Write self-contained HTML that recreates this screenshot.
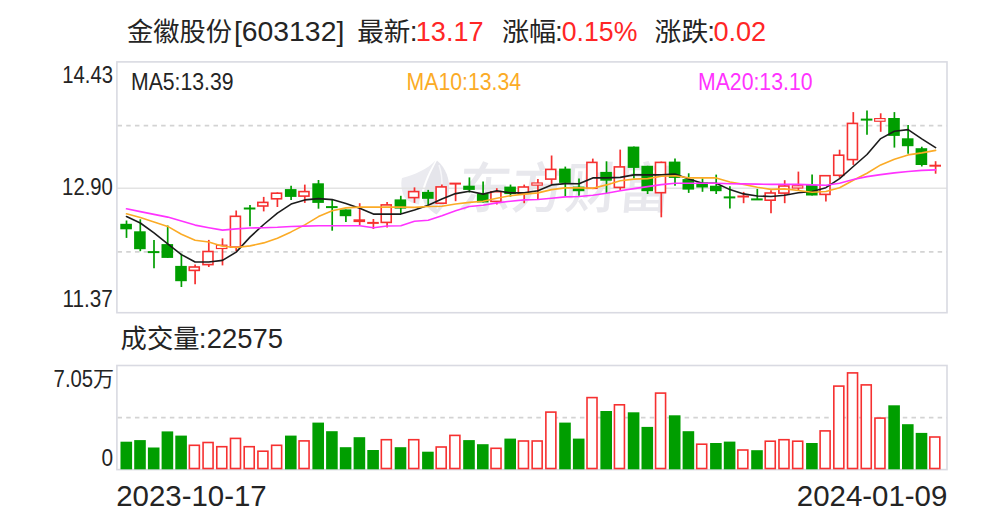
<!DOCTYPE html>
<html lang="zh-CN"><head><meta charset="utf-8"><title>金徽股份[603132] K线</title>
<style>html,body{margin:0;padding:0;background:#fff}svg{display:block}text{font-family:"Liberation Sans","Noto Sans CJK SC",sans-serif;fill:#242424}.c{font-family:"Noto Sans CJK SC","Liberation Sans",sans-serif}</style></head><body>
<svg width="1000" height="523" viewBox="0 0 1000 523">
<rect width="1000" height="523" fill="#fff"/>
<g id="wm">
<path d="M435.5 160.5 C428 169 414 175 402 178 C400.5 184 401.5 192 405 198 C409 202 414 204 419 204.5 C421 190 427 174 435.5 160.5 Z" fill="#ebebf0"/>
<path d="M437 160.5 C446 168 450 180 449 190 C448 200 443 208 436.5 214.5 C428 209 422 203 423 196 C425 184 431 172 437 160.5 Z" fill="#e5e5eb"/>
<path d="M439 165 C443.5 178 443 196 437 209" fill="none" stroke="#f6f6f9" stroke-width="1.5"/>
<text class="c" x="457" y="208" font-size="55" font-weight="500" style="fill:#e8e8ed" textLength="213" lengthAdjust="spacingAndGlyphs" transform="skewX(-5) translate(18.2 0)">东方财富</text>
</g>
<g stroke="#d3d3d3" stroke-width="1.6" fill="none">
<line x1="117" y1="188.2" x2="947" y2="188.2" stroke="#e3e3e3" stroke-width="1.4"/>
<line x1="117.5" y1="125.6" x2="947" y2="125.6" stroke-dasharray="4.5 4.225"/>
<line x1="117.5" y1="251.9" x2="947" y2="251.9" stroke-dasharray="4.5 4.225"/>
<line x1="117.5" y1="417.6" x2="947" y2="417.6" stroke-dasharray="4.5 4.225"/>
</g>
<g stroke="#d9dae2" stroke-width="1.6" fill="none">
<rect x="116.9" y="61.9" width="830.1" height="250.8"/>
<rect x="116.9" y="365.5" width="830.1" height="104.1"/>
</g>
<g id="k">
<path d="M126.5 220.5V237.9" stroke="#009e00" stroke-width="1.7"/>
<rect x="120.3" y="223.8" width="11.6" height="5.5" fill="#009e00"/>
<path d="M140.3 219.3V251.2" stroke="#009e00" stroke-width="1.7"/>
<rect x="134.1" y="231.3" width="11.6" height="17.9" fill="#009e00"/>
<path d="M154.0 239.9V268.2" stroke="#009e00" stroke-width="1.7" fill="none"/>
<path d="M147.8 252.1H159.4" stroke="#009e00" stroke-width="2.0" fill="none"/>
<path d="M167.7 225.5V257.9" stroke="#009e00" stroke-width="1.7"/>
<rect x="161.5" y="244.1" width="11.6" height="13.8" fill="#009e00"/>
<path d="M181.4 253.7V287.0" stroke="#009e00" stroke-width="1.7"/>
<rect x="175.2" y="265.9" width="11.6" height="15.3" fill="#009e00"/>
<path d="M195.1 264.5V284.2" stroke="#f63030" stroke-width="1.7"/>
<rect x="189.26" y="267.00" width="10.00" height="3.40" fill="#fff" stroke="#f63030" stroke-width="1.60"/>
<path d="M208.8 239.9V267.0" stroke="#f63030" stroke-width="1.7"/>
<rect x="202.97" y="251.50" width="10.00" height="13.10" fill="#fff" stroke="#f63030" stroke-width="1.60"/>
<path d="M222.5 238.4V265.4" stroke="#f63030" stroke-width="1.7"/>
<rect x="216.46" y="245.17" width="10.45" height="3.35" fill="#fff" stroke="#f63030" stroke-width="1.15"/>
<path d="M236.2 210.5V251.2" stroke="#f63030" stroke-width="1.7"/>
<rect x="230.40" y="216.30" width="10.00" height="30.80" fill="#fff" stroke="#f63030" stroke-width="1.60"/>
<path d="M250.0 205.0V226.3" stroke="#009e00" stroke-width="1.7" fill="none"/>
<path d="M243.8 208.5H255.4" stroke="#009e00" stroke-width="2.0" fill="none"/>
<path d="M263.7 196.9V211.4" stroke="#f63030" stroke-width="1.7"/>
<rect x="257.82" y="202.40" width="10.00" height="3.60" fill="#fff" stroke="#f63030" stroke-width="1.60"/>
<path d="M277.4 192.4V207.0" stroke="#f63030" stroke-width="1.7"/>
<rect x="271.53" y="193.20" width="10.00" height="5.60" fill="#fff" stroke="#f63030" stroke-width="1.60"/>
<path d="M291.1 185.8V199.9" stroke="#009e00" stroke-width="1.7"/>
<rect x="284.9" y="189.1" width="11.6" height="7.8" fill="#009e00"/>
<path d="M304.8 184.6V202.9" stroke="#f63030" stroke-width="1.7"/>
<rect x="298.96" y="191.60" width="10.00" height="4.50" fill="#fff" stroke="#f63030" stroke-width="1.60"/>
<path d="M318.5 180.0V208.7" stroke="#009e00" stroke-width="1.7"/>
<rect x="312.3" y="183.3" width="11.6" height="19.6" fill="#009e00"/>
<path d="M332.2 199.9V230.7" stroke="#009e00" stroke-width="1.7" fill="none"/>
<path d="M326.0 207.1H337.6" stroke="#009e00" stroke-width="2.0" fill="none"/>
<path d="M345.9 209.4V221.9" stroke="#009e00" stroke-width="1.7"/>
<rect x="339.7" y="209.4" width="11.6" height="6.8" fill="#009e00"/>
<path d="M359.7 203.2V225.2" stroke="#f63030" stroke-width="1.7" fill="none"/>
<path d="M353.5 220.7H365.1" stroke="#f63030" stroke-width="2.8" fill="none"/>
<path d="M373.4 219.0V229.0" stroke="#f63030" stroke-width="1.7" fill="none"/>
<path d="M367.2 222.9H378.8" stroke="#f63030" stroke-width="2.0" fill="none"/>
<path d="M387.1 201.9V227.4" stroke="#f63030" stroke-width="1.7"/>
<rect x="381.23" y="204.90" width="10.00" height="17.50" fill="#fff" stroke="#f63030" stroke-width="1.60"/>
<path d="M400.8 195.8V213.6" stroke="#009e00" stroke-width="1.7"/>
<rect x="394.6" y="199.4" width="11.6" height="9.2" fill="#009e00"/>
<path d="M414.5 187.4V202.9" stroke="#f63030" stroke-width="1.7"/>
<rect x="408.65" y="191.60" width="10.00" height="6.00" fill="#fff" stroke="#f63030" stroke-width="1.60"/>
<path d="M428.2 189.9V205.2" stroke="#009e00" stroke-width="1.7"/>
<rect x="422.0" y="191.9" width="11.6" height="6.9" fill="#009e00"/>
<path d="M441.9 184.6V204.0" stroke="#f63030" stroke-width="1.7"/>
<rect x="436.08" y="186.90" width="10.00" height="16.30" fill="#fff" stroke="#f63030" stroke-width="1.60"/>
<path d="M455.6 183.6V201.2" stroke="#f63030" stroke-width="1.7" fill="none"/>
<path d="M449.4 183.6H461.0" stroke="#f63030" stroke-width="2.0" fill="none"/>
<path d="M469.4 177.4V192.4" stroke="#009e00" stroke-width="1.7"/>
<rect x="463.2" y="185.7" width="11.6" height="4.2" fill="#009e00"/>
<path d="M483.1 181.6V202.4" stroke="#009e00" stroke-width="1.7"/>
<rect x="476.9" y="193.6" width="11.6" height="8.8" fill="#009e00"/>
<path d="M496.8 188.2V204.5" stroke="#f63030" stroke-width="1.7"/>
<rect x="490.92" y="191.70" width="10.00" height="9.70" fill="#fff" stroke="#f63030" stroke-width="1.60"/>
<path d="M510.5 184.6V196.6" stroke="#009e00" stroke-width="1.7"/>
<rect x="504.3" y="186.6" width="11.6" height="7.5" fill="#009e00"/>
<path d="M524.2 184.6V203.2" stroke="#f63030" stroke-width="1.7"/>
<rect x="518.35" y="187.00" width="10.00" height="6.30" fill="#fff" stroke="#f63030" stroke-width="1.60"/>
<path d="M537.9 179.1V199.0" stroke="#f63030" stroke-width="1.7"/>
<rect x="531.84" y="182.97" width="10.45" height="2.15" fill="#fff" stroke="#f63030" stroke-width="1.15"/>
<path d="M551.6 155.5V184.6" stroke="#f63030" stroke-width="1.7"/>
<rect x="545.77" y="169.40" width="10.00" height="9.70" fill="#fff" stroke="#f63030" stroke-width="1.60"/>
<path d="M565.3 166.6V196.2" stroke="#009e00" stroke-width="1.7"/>
<rect x="559.1" y="168.6" width="11.6" height="14.3" fill="#009e00"/>
<path d="M579.0 178.6V195.7" stroke="#009e00" stroke-width="1.7"/>
<rect x="572.8" y="186.6" width="11.6" height="4.6" fill="#009e00"/>
<path d="M592.8 158.6V189.1" stroke="#f63030" stroke-width="1.7"/>
<rect x="586.91" y="162.40" width="10.00" height="25.90" fill="#fff" stroke="#f63030" stroke-width="1.60"/>
<path d="M606.5 161.3V192.9" stroke="#009e00" stroke-width="1.7"/>
<rect x="600.3" y="171.9" width="11.6" height="8.8" fill="#009e00"/>
<path d="M620.2 149.6V189.9" stroke="#f63030" stroke-width="1.7"/>
<rect x="614.33" y="166.90" width="10.00" height="20.50" fill="#fff" stroke="#f63030" stroke-width="1.60"/>
<path d="M633.9 146.6V178.6" stroke="#009e00" stroke-width="1.7"/>
<rect x="627.7" y="146.6" width="11.6" height="21.3" fill="#009e00"/>
<path d="M647.6 165.8V194.0" stroke="#009e00" stroke-width="1.7"/>
<rect x="641.4" y="165.8" width="11.6" height="25.4" fill="#009e00"/>
<path d="M661.3 161.6V217.3" stroke="#f63030" stroke-width="1.7"/>
<rect x="655.47" y="162.40" width="10.00" height="30.30" fill="#fff" stroke="#f63030" stroke-width="1.60"/>
<path d="M675.0 158.6V185.7" stroke="#009e00" stroke-width="1.7"/>
<rect x="668.8" y="161.6" width="11.6" height="16.3" fill="#009e00"/>
<path d="M688.7 173.3V192.9" stroke="#009e00" stroke-width="1.7"/>
<rect x="682.5" y="179.1" width="11.6" height="10.5" fill="#009e00"/>
<path d="M702.5 178.4V191.8" stroke="#009e00" stroke-width="1.7"/>
<rect x="696.3" y="182.6" width="11.6" height="4.9" fill="#009e00"/>
<path d="M716.2 174.6V194.0" stroke="#009e00" stroke-width="1.7"/>
<rect x="710.0" y="185.7" width="11.6" height="5.5" fill="#009e00"/>
<path d="M729.9 186.3V208.6" stroke="#009e00" stroke-width="1.7" fill="none"/>
<path d="M723.7 197.4H735.3" stroke="#009e00" stroke-width="2.0" fill="none"/>
<path d="M743.6 191.9V203.2" stroke="#f63030" stroke-width="1.7" fill="none"/>
<path d="M737.4 196.5H749.0" stroke="#f63030" stroke-width="2.0" fill="none"/>
<path d="M757.3 188.9V199.4" stroke="#009e00" stroke-width="1.7" fill="none"/>
<path d="M751.1 199.4H762.7" stroke="#009e00" stroke-width="2.0" fill="none"/>
<path d="M771.0 190.2V213.2" stroke="#f63030" stroke-width="1.7"/>
<rect x="765.16" y="193.00" width="10.00" height="7.20" fill="#fff" stroke="#f63030" stroke-width="1.60"/>
<path d="M784.7 180.2V203.2" stroke="#f63030" stroke-width="1.7"/>
<rect x="778.88" y="186.00" width="10.00" height="7.10" fill="#fff" stroke="#f63030" stroke-width="1.60"/>
<path d="M798.4 171.6V190.2" stroke="#f63030" stroke-width="1.7"/>
<rect x="792.36" y="185.77" width="10.45" height="2.25" fill="#fff" stroke="#f63030" stroke-width="1.15"/>
<path d="M812.1 174.4V195.5" stroke="#009e00" stroke-width="1.7"/>
<rect x="806.0" y="184.9" width="11.6" height="10.6" fill="#009e00"/>
<path d="M825.9 174.9V201.5" stroke="#f63030" stroke-width="1.7"/>
<rect x="820.01" y="175.70" width="10.00" height="18.70" fill="#fff" stroke="#f63030" stroke-width="1.60"/>
<path d="M839.6 149.7V177.7" stroke="#f63030" stroke-width="1.7"/>
<rect x="833.72" y="155.20" width="10.00" height="20.10" fill="#fff" stroke="#f63030" stroke-width="1.60"/>
<path d="M853.3 112.1V164.9" stroke="#f63030" stroke-width="1.7"/>
<rect x="847.44" y="123.40" width="10.00" height="36.20" fill="#fff" stroke="#f63030" stroke-width="1.60"/>
<path d="M867.0 110.5V134.8" stroke="#009e00" stroke-width="1.7" fill="none"/>
<path d="M860.8 119.6H872.4" stroke="#009e00" stroke-width="2.0" fill="none"/>
<path d="M880.7 113.3V131.8" stroke="#f63030" stroke-width="1.7"/>
<rect x="874.63" y="118.58" width="10.45" height="2.65" fill="#fff" stroke="#f63030" stroke-width="1.15"/>
<path d="M894.4 112.1V147.6" stroke="#009e00" stroke-width="1.7"/>
<rect x="888.2" y="118.0" width="11.6" height="17.9" fill="#009e00"/>
<path d="M908.1 124.9V153.7" stroke="#009e00" stroke-width="1.7"/>
<rect x="901.9" y="138.3" width="11.6" height="7.9" fill="#009e00"/>
<path d="M921.8 146.7V166.5" stroke="#009e00" stroke-width="1.7"/>
<rect x="915.6" y="148.2" width="11.6" height="16.8" fill="#009e00"/>
<path d="M935.6 161.2V173.7" stroke="#f63030" stroke-width="1.7" fill="none"/>
<path d="M929.4 165.7H941.0" stroke="#f63030" stroke-width="2.0" fill="none"/>
</g>
<polyline points="126.5,216.6 140.3,223.0 154.0,232.9 167.7,243.8 181.4,254.6 195.1,262.0 208.8,262.0 222.5,260.4 236.2,252.1 250.0,237.1 263.7,224.5 277.4,213.2 291.1,204.1 304.8,199.9 318.5,198.6 332.2,199.6 345.9,203.6 359.7,208.2 373.4,214.1 387.1,214.1 400.8,214.1 414.5,209.9 428.2,205.3 441.9,199.0 455.6,193.6 469.4,191.2 483.1,194.1 496.8,190.7 510.5,192.9 524.2,192.9 537.9,190.7 551.6,184.9 565.3,183.6 579.0,183.8 592.8,177.9 606.5,177.9 620.2,177.4 633.9,174.9 647.6,174.9 661.3,174.9 675.0,174.1 688.7,179.1 702.5,183.2 716.2,183.2 729.9,189.6 743.6,193.9 757.3,196.0 771.0,196.5 784.7,195.2 798.4,192.7 812.1,191.5 825.9,187.7 839.6,178.6 853.3,166.5 867.0,154.5 880.7,138.6 894.4,131.3 908.1,129.6 921.8,138.8 935.6,147.6" fill="none" stroke="#1c1c1c" stroke-width="1.6" stroke-linejoin="round" stroke-linecap="round"/>
<polyline points="126.5,213.8 140.3,217.6 154.0,222.0 167.7,226.4 181.4,234.2 195.1,240.3 208.8,242.0 222.5,246.2 236.2,247.5 250.0,245.9 263.7,242.9 277.4,238.2 291.1,231.9 304.8,224.9 318.5,216.6 332.2,210.7 345.9,207.9 359.7,207.1 373.4,207.1 387.1,207.1 400.8,207.1 414.5,207.4 428.2,206.5 441.9,206.2 455.6,204.0 469.4,202.4 483.1,201.2 496.8,198.2 510.5,195.7 524.2,194.1 537.9,192.9 551.6,189.6 565.3,187.9 579.0,187.9 592.8,188.2 606.5,184.9 620.2,180.7 633.9,179.1 647.6,178.6 661.3,176.2 675.0,175.7 688.7,177.9 702.5,177.9 716.2,177.9 729.9,182.0 743.6,184.4 757.3,187.2 771.0,189.4 784.7,188.9 798.4,190.5 812.1,192.2 825.9,191.5 839.6,187.7 853.3,180.2 867.0,173.2 880.7,164.9 894.4,159.2 908.1,154.9 921.8,152.9 935.6,150.4" fill="none" stroke="#fbab26" stroke-width="1.6" stroke-linejoin="round" stroke-linecap="round"/>
<polyline points="126.5,208.8 140.3,211.6 154.0,214.4 167.7,217.1 181.4,221.1 195.1,225.1 208.8,227.7 222.5,230.1 236.2,228.9 250.0,228.0 263.7,227.7 277.4,227.3 291.1,226.5 304.8,226.1 318.5,225.7 332.2,225.7 345.9,225.7 359.7,225.7 373.4,227.7 387.1,226.0 400.8,225.7 414.5,221.2 428.2,220.3 441.9,215.7 455.6,210.7 469.4,206.5 483.1,205.2 496.8,202.9 510.5,201.2 524.2,199.9 537.9,199.5 551.6,198.2 565.3,196.9 579.0,196.5 592.8,195.2 606.5,193.2 620.2,190.7 633.9,188.6 647.6,186.6 661.3,184.6 675.0,183.2 688.7,183.2 702.5,183.2 716.2,183.2 729.9,183.7 743.6,183.9 757.3,184.1 771.0,184.4 784.7,184.4 798.4,184.4 812.1,184.9 825.9,185.2 839.6,183.2 853.3,179.5 867.0,176.6 880.7,174.6 894.4,172.9 908.1,171.5 921.8,170.4 935.6,169.9" fill="none" stroke="#ff33ff" stroke-width="1.6" stroke-linejoin="round" stroke-linecap="round"/>
<g id="v">
<rect x="120.5" y="441.7" width="11.6" height="27.6" fill="#009e00"/>
<rect x="134.2" y="440.1" width="11.6" height="29.2" fill="#009e00"/>
<rect x="147.9" y="447.5" width="11.6" height="21.8" fill="#009e00"/>
<rect x="161.6" y="431.4" width="11.6" height="37.9" fill="#009e00"/>
<rect x="175.3" y="435.6" width="11.6" height="33.7" fill="#009e00"/>
<rect x="189.36" y="445.30" width="10.00" height="23.20" fill="#fff" stroke="#f63030" stroke-width="1.6"/>
<rect x="203.07" y="442.50" width="10.00" height="26.00" fill="#fff" stroke="#f63030" stroke-width="1.6"/>
<rect x="216.78" y="446.70" width="10.00" height="21.80" fill="#fff" stroke="#f63030" stroke-width="1.6"/>
<rect x="230.50" y="438.40" width="10.00" height="30.10" fill="#fff" stroke="#f63030" stroke-width="1.6"/>
<rect x="244.21" y="446.70" width="10.00" height="21.80" fill="#fff" stroke="#f63030" stroke-width="1.6"/>
<rect x="257.92" y="451.20" width="10.00" height="17.30" fill="#fff" stroke="#f63030" stroke-width="1.6"/>
<rect x="271.63" y="445.30" width="10.00" height="23.20" fill="#fff" stroke="#f63030" stroke-width="1.6"/>
<rect x="285.0" y="435.6" width="11.6" height="33.7" fill="#009e00"/>
<rect x="299.06" y="440.90" width="10.00" height="27.60" fill="#fff" stroke="#f63030" stroke-width="1.6"/>
<rect x="312.4" y="422.6" width="11.6" height="46.7" fill="#009e00"/>
<rect x="326.1" y="431.2" width="11.6" height="38.1" fill="#009e00"/>
<rect x="339.8" y="447.2" width="11.6" height="22.1" fill="#009e00"/>
<rect x="353.6" y="437.2" width="11.6" height="32.1" fill="#009e00"/>
<rect x="367.3" y="450.0" width="11.6" height="19.3" fill="#009e00"/>
<rect x="381.33" y="439.70" width="10.00" height="28.80" fill="#fff" stroke="#f63030" stroke-width="1.6"/>
<rect x="394.7" y="447.2" width="11.6" height="22.1" fill="#009e00"/>
<rect x="408.75" y="439.70" width="10.00" height="28.80" fill="#fff" stroke="#f63030" stroke-width="1.6"/>
<rect x="422.1" y="451.7" width="11.6" height="17.6" fill="#009e00"/>
<rect x="436.18" y="447.00" width="10.00" height="21.50" fill="#fff" stroke="#f63030" stroke-width="1.6"/>
<rect x="449.89" y="435.40" width="10.00" height="33.10" fill="#fff" stroke="#f63030" stroke-width="1.6"/>
<rect x="463.2" y="440.1" width="11.6" height="29.2" fill="#009e00"/>
<rect x="477.0" y="444.2" width="11.6" height="25.1" fill="#009e00"/>
<rect x="491.02" y="448.30" width="10.00" height="20.20" fill="#fff" stroke="#f63030" stroke-width="1.6"/>
<rect x="504.4" y="438.6" width="11.6" height="30.7" fill="#009e00"/>
<rect x="518.45" y="441.00" width="10.00" height="27.50" fill="#fff" stroke="#f63030" stroke-width="1.6"/>
<rect x="532.16" y="441.00" width="10.00" height="27.50" fill="#fff" stroke="#f63030" stroke-width="1.6"/>
<rect x="545.87" y="412.10" width="10.00" height="56.40" fill="#fff" stroke="#f63030" stroke-width="1.6"/>
<rect x="559.2" y="422.6" width="11.6" height="46.7" fill="#009e00"/>
<rect x="572.9" y="438.6" width="11.6" height="30.7" fill="#009e00"/>
<rect x="587.01" y="397.60" width="10.00" height="70.90" fill="#fff" stroke="#f63030" stroke-width="1.6"/>
<rect x="600.4" y="411.0" width="11.6" height="58.3" fill="#009e00"/>
<rect x="614.43" y="404.80" width="10.00" height="63.70" fill="#fff" stroke="#f63030" stroke-width="1.6"/>
<rect x="627.8" y="412.3" width="11.6" height="57.0" fill="#009e00"/>
<rect x="641.5" y="426.9" width="11.6" height="42.4" fill="#009e00"/>
<rect x="655.57" y="393.10" width="10.00" height="75.40" fill="#fff" stroke="#f63030" stroke-width="1.6"/>
<rect x="668.9" y="415.3" width="11.6" height="54.0" fill="#009e00"/>
<rect x="682.6" y="431.2" width="11.6" height="38.1" fill="#009e00"/>
<rect x="696.70" y="444.20" width="10.00" height="24.30" fill="#fff" stroke="#f63030" stroke-width="1.6"/>
<rect x="710.1" y="443.0" width="11.6" height="26.3" fill="#009e00"/>
<rect x="723.8" y="441.6" width="11.6" height="27.7" fill="#009e00"/>
<rect x="737.84" y="450.00" width="10.00" height="18.50" fill="#fff" stroke="#f63030" stroke-width="1.6"/>
<rect x="751.2" y="450.2" width="11.6" height="19.1" fill="#009e00"/>
<rect x="765.26" y="441.20" width="10.00" height="27.30" fill="#fff" stroke="#f63030" stroke-width="1.6"/>
<rect x="778.98" y="439.70" width="10.00" height="28.80" fill="#fff" stroke="#f63030" stroke-width="1.6"/>
<rect x="792.69" y="441.20" width="10.00" height="27.30" fill="#fff" stroke="#f63030" stroke-width="1.6"/>
<rect x="806.1" y="443.0" width="11.6" height="26.3" fill="#009e00"/>
<rect x="820.11" y="430.90" width="10.00" height="37.60" fill="#fff" stroke="#f63030" stroke-width="1.6"/>
<rect x="833.82" y="386.10" width="10.00" height="82.40" fill="#fff" stroke="#f63030" stroke-width="1.6"/>
<rect x="847.54" y="372.90" width="10.00" height="95.60" fill="#fff" stroke="#f63030" stroke-width="1.6"/>
<rect x="861.25" y="384.90" width="10.00" height="83.60" fill="#fff" stroke="#f63030" stroke-width="1.6"/>
<rect x="874.96" y="418.10" width="10.00" height="50.40" fill="#fff" stroke="#f63030" stroke-width="1.6"/>
<rect x="888.3" y="405.3" width="11.6" height="64.0" fill="#009e00"/>
<rect x="902.0" y="424.2" width="11.6" height="45.1" fill="#009e00"/>
<rect x="915.7" y="432.9" width="11.6" height="36.4" fill="#009e00"/>
<rect x="929.81" y="437.00" width="10.00" height="31.50" fill="#fff" stroke="#f63030" stroke-width="1.6"/>
</g>
<text x="127.0" y="41.0" font-size="26" class="c" textLength="105" lengthAdjust="spacingAndGlyphs">金徽股份</text>
<text x="233.9" y="41.3" font-size="28" textLength="110.4" lengthAdjust="spacingAndGlyphs">[603132]</text>
<text x="357.2" y="41.0" font-size="26" class="c" textLength="53.2" lengthAdjust="spacingAndGlyphs">最新</text>
<text x="409.8" y="41.3" font-size="28">:</text>
<text x="415.8" y="41.3" font-size="28" style="fill:#ff2626" textLength="67.8" lengthAdjust="spacingAndGlyphs">13.17</text>
<text x="502.0" y="41.0" font-size="26" class="c" textLength="54.2" lengthAdjust="spacingAndGlyphs">涨幅</text>
<text x="555.0" y="41.3" font-size="28">:</text>
<text x="561.8" y="41.3" font-size="28" style="fill:#ff2626" textLength="75.6" lengthAdjust="spacingAndGlyphs">0.15%</text>
<text x="654.6" y="41.0" font-size="26" class="c" textLength="53.6" lengthAdjust="spacingAndGlyphs">涨跌</text>
<text x="707.2" y="41.3" font-size="28">:</text>
<text x="713.4" y="41.3" font-size="28" style="fill:#ff2626" textLength="52.8" lengthAdjust="spacingAndGlyphs">0.02</text>
<text x="112.9" y="83.0" font-size="23.5" text-anchor="end" textLength="50.6" lengthAdjust="spacingAndGlyphs">14.43</text>
<text x="112.9" y="194.8" font-size="23.5" text-anchor="end" textLength="50.8" lengthAdjust="spacingAndGlyphs">12.90</text>
<text x="112.9" y="306.7" font-size="23.5" text-anchor="end" textLength="50.4" lengthAdjust="spacingAndGlyphs">11.37</text>
<text x="53.6" y="386.8" font-size="23.5" textLength="39.5" lengthAdjust="spacingAndGlyphs">7.05</text>
<text x="93.0" y="385.8" font-size="21" class="c">万</text>
<text x="101.6" y="466.4" font-size="23.5" textLength="11.6" lengthAdjust="spacingAndGlyphs">0</text>
<text x="131.0" y="90.2" font-size="23" textLength="102.5" lengthAdjust="spacingAndGlyphs">MA5:13.39</text>
<text x="406.6" y="90.2" font-size="23" style="fill:#fbab26" textLength="114.5" lengthAdjust="spacingAndGlyphs">MA10:13.34</text>
<text x="698.0" y="90.2" font-size="23" style="fill:#ff33ff" textLength="114.5" lengthAdjust="spacingAndGlyphs">MA20:13.10</text>
<text x="120.6" y="348.4" font-size="26" class="c" textLength="79" lengthAdjust="spacingAndGlyphs">成交量</text>
<text x="198.8" y="348.4" font-size="28">:</text>
<text x="206.8" y="348.4" font-size="28" textLength="76.2" lengthAdjust="spacingAndGlyphs">22575</text>
<text x="116.2" y="506.2" font-size="29.5" textLength="150.5" lengthAdjust="spacingAndGlyphs">2023-10-17</text>
<text x="796.8" y="506.2" font-size="29.5" textLength="150.5" lengthAdjust="spacingAndGlyphs">2024-01-09</text>
</svg></body></html>
